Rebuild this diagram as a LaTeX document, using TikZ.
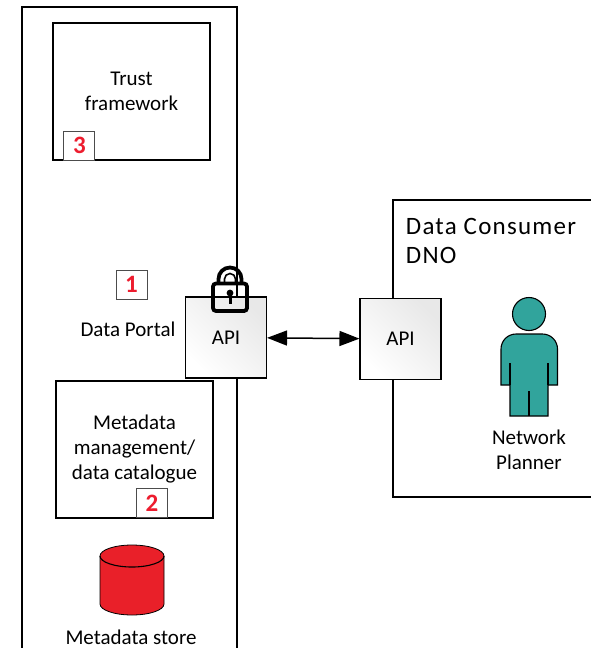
\documentclass[tikz,border=0pt]{standalone}
\usepackage{fontspec}
\setmainfont{Carlito}
\usetikzlibrary{positioning,arrows.meta}
\definecolor{badgered}{HTML}{ED1C2E}
\definecolor{storered}{HTML}{E92029}
\definecolor{personteal}{HTML}{31A49C}
\begin{document}
\begin{tikzpicture}[x=1pt,y=-1pt,line width=1.1pt,
    box/.style={rectangle,draw,minimum width=157pt,minimum height=137pt,
		align=center,font=\fontsize{21}{25}\selectfont},
    badge/.style={rectangle,draw=black!70,line width=1pt,fill=white,minimum width=31pt,minimum height=29pt,
		inner sep=0pt,text=badgered,font=\fontsize{25}{25}\selectfont\bfseries},
    api/.style={rectangle,draw,minimum width=81pt,minimum height=81pt,
		shading=axis,left color=black!9,right color=white,shading angle=-45,
		font=\fontsize{21}{25}\selectfont},
    label/.style={align=center,font=\fontsize{21}{25}\selectfont}
    ]
   \useasboundingbox (0,0) rectangle (591,648);
%%% Data portal side
   \draw (22,648) |- (237,7) -- (237,648);
   \node [box] (trust) at (131.5,91.5) {Trust\\framework};
   \node [badge,anchor=south west] (badge3) at (trust.south west) [xshift=11pt] {3};
   \node [badge] (badge1) at (131.5,284.5) {1};
   \node [label] (portal) at (128,329) {Data Portal};
   \node [api] (api1) at (226,337.5) {API};
   \node [box] (meta) at (134.5,449.5) {Metadata\\management/\\data catalogue};
   \node [badge,anchor=south west] (badge2) at (136,518) {2};
   \node [label] (storelabel) at (131,637) {Metadata store};
%%% Metadata store cylinder
   \draw[fill=storered,line width=.8pt] (100,556) -- (100,604) arc[start angle=180,end angle=0,x radius=32,y radius=11]
		-- (164,556) arc[start angle=0,end angle=-180,x radius=32,y radius=11] -- cycle;
   \draw (100,556) arc[start angle=180,end angle=0,x radius=32,y radius=11];
%%% Lock on the API
   \draw[line width=3.8pt,rounded corners=3pt] (213,283.5) rectangle (247,311);
   \draw[line width=3.8pt] (218.5,283.5) -- (218.5,279) arc[start angle=180,end angle=360,radius=11.5] -- (241.5,283.5);
   \draw[line width=1.6pt] (224.5,283.5) -- (224.5,279) arc[start angle=180,end angle=360,radius=5.5] -- (235.5,283.5);
   \fill (230,293) circle (3.4pt);
   \fill (228.5,293) rectangle (231.5,304);
%%% Data consumer side
   \draw (591,200) -| (393,497) -- (591,497);
   \node [api] (api2) at (400.5,339) {API};
   \draw[{Triangle[length=20pt,width=15pt]}-{Triangle[length=20pt,width=15pt]},line width=1.5pt] (api1) -- (api2);
   \node [anchor=north west,align=left,font=\fontsize{25}{29}\selectfont\addfontfeature{LetterSpace=5}] (consumer)
		at (402,214) {Data Consumer\\DNO};
%%% Network planner
   \draw[fill=personteal] (529,314) circle (16.5pt);
   \draw[fill=personteal] (501,385) -- (501,349) arc[start angle=180,end angle=270,radius=15] -- (542.5,334)
		arc[start angle=270,end angle=360,radius=15] -- (557.5,385) -- (548,385) -- (548,416) -- (510,416) -- (510,385) -- cycle;
   \draw (510,363) -- (510,385) (548,363) -- (548,385) (529,391) -- (529,416);
   \node [label] (planner) at (529,450) {Network\\Planner};
\end{tikzpicture}
\end{document}
